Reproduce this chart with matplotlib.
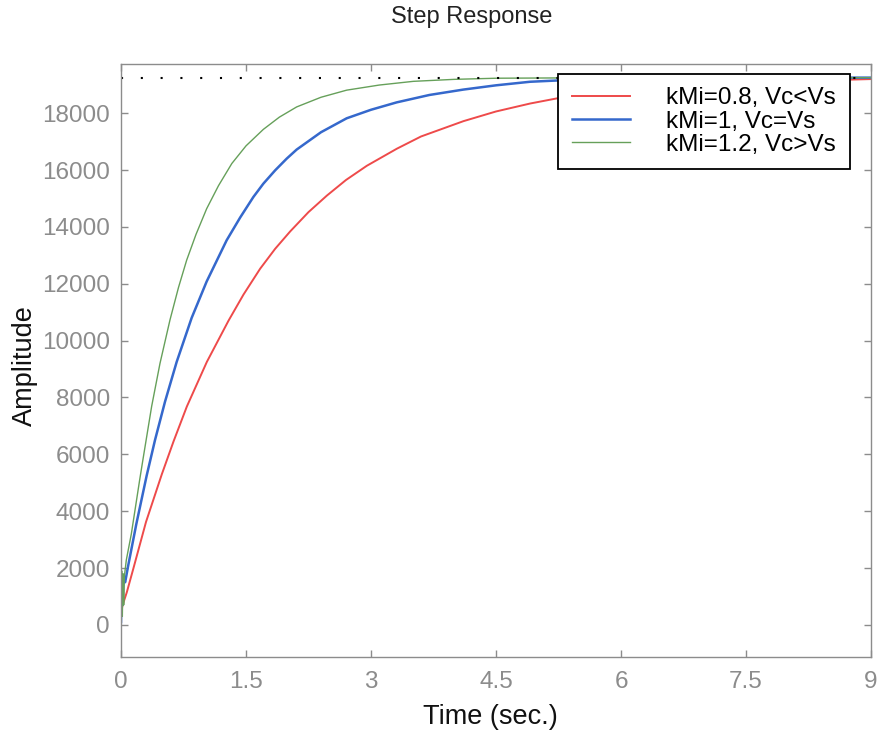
import numpy as np
from matplotlib import pyplot as plt

plt.rcParams['font.family'] = ['Liberation Sans', 'DejaVu Sans']

# values
t_red = [0, 0.02, 0.07, 0.15, 0.30, 0.49, 0.63, 0.79, 1.03, 1.29, 1.47, 1.67,
         1.85, 2.03, 2.25, 2.47, 2.70, 2.95, 3.31, 3.60, 4.11, 4.50, 4.91,
         5.23, 5.60, 6.0, 7.0, 8.0, 9.0]
a_red = [450, 700, 1150, 2000, 3620, 5300, 6450, 7680, 9250, 10700, 11620, 12530,
         13230, 13840, 14520, 15100, 15650, 16150, 16750, 17180, 17720, 18060, 18340,
         18520, 18650, 18780, 19000, 19120, 19200]

t_blue = [0, 0.01, 0.02, 0.03, 0.05, 0.084, 0.184, 0.308, 0.408, 0.528, 0.668,
          0.848, 1.028, 1.268, 1.43, 1.588, 1.708, 1.85, 1.988, 2.108, 2.40,
          2.708, 3.0, 3.308, 3.70, 4.108, 4.50, 4.908, 5.6, 6.5, 9.0]
a_blue = [100, 1500, 700, 1600, 1500, 2050, 3550, 5250, 6500, 7850, 9250,
          10800, 12080, 13530, 14330, 15050, 15520, 15990, 16400, 16720, 17330,
          17820, 18120, 18380, 18640, 18830, 18980, 19105, 19200, 19240, 19250]

t_green = [0, 0.008, 0.016, 0.024, 0.032, 0.04, 0.064, 0.124, 0.224, 0.268,
           0.368, 0.468, 0.588, 0.69, 0.788, 0.90, 1.028, 1.17, 1.33, 1.50,
           1.708, 1.90, 2.108, 2.40, 2.708, 3.10, 3.508, 4.0, 4.508, 6.0, 9.0]
a_green = [-450, 1900, 300, 1800, 700, 1700, 2285, 3200, 5100, 5900,
           7690, 9200, 10730, 11870, 12830, 13735, 14640, 15450, 16230, 16850,
           17430, 17860, 18220, 18560, 18810, 18990, 19120, 19190, 19230, 19250, 19250]

steady_state = 19250
labels = ['kMi=0.8, Vc<Vs', 'kMi=1, Vc=Vs', 'kMi=1.2, Vc>Vs']
x_ticks = [0, 1.5, 3, 4.5, 6, 7.5, 9]
x_tick_labels = ['0', '1.5', '3', '4.5', '6', '7.5', '9']
y_ticks = list(range(0, 18001, 2000))

fig = plt.figure(figsize=(8.81, 7.32), dpi=100)
ax = fig.add_axes([121 / 881, 1 - 657 / 732, 750 / 881, 593 / 732])

ax.plot(t_red, a_red, color='#ee4a4a', lw=1.4, label=labels[0])
ax.plot(t_blue, a_blue, color='#3568cc', lw=1.8, label=labels[1])
ax.plot(t_green, a_green, color='#66a05a', lw=1.0, label=labels[2])
ax.axhline(steady_state, color='black', lw=1.5, linestyle=(0, (1, 8.5)))

ax.set_xlim(0, 9)
ax.set_ylim(-1130, 19730)
ax.set_xticks(x_ticks)
ax.set_xticklabels(x_tick_labels)
ax.set_yticks(y_ticks)

grey = '#8c8c8c'
for s in ax.spines.values():
    s.set_color(grey)
    s.set_linewidth(1.0)
ax.tick_params(direction='in', length=5, width=1.0, color=grey,
               labelcolor=grey, labelsize=17.5, top=True, right=True)
ax.tick_params(axis='x', pad=10)
ax.tick_params(axis='y', pad=8)

leg = ax.legend(loc='upper left', bbox_to_anchor=(0.583, 0.983),
                borderaxespad=0, fontsize=17.5, handlelength=2.4,
                handletextpad=1.5, labelspacing=0.05, borderpad=0.55,
                fancybox=False, framealpha=1)
leg.get_frame().set_edgecolor('black')
leg.get_frame().set_linewidth(1.3)

fig.text(472 / 881, 1 - 17 / 732, 'Step Response', ha='center', va='center',
         fontsize=17, color='#222222')
fig.text(490 / 881, 1 - 717 / 732, 'Time (sec.)', ha='center', va='center',
         fontsize=19.5, color='#111111')
fig.text(25 / 881, 1 - 366 / 732, 'Amplitude', ha='center', va='center',
         rotation=90, fontsize=19.5, color='#111111')

fig.savefig('out.png', dpi=100)
